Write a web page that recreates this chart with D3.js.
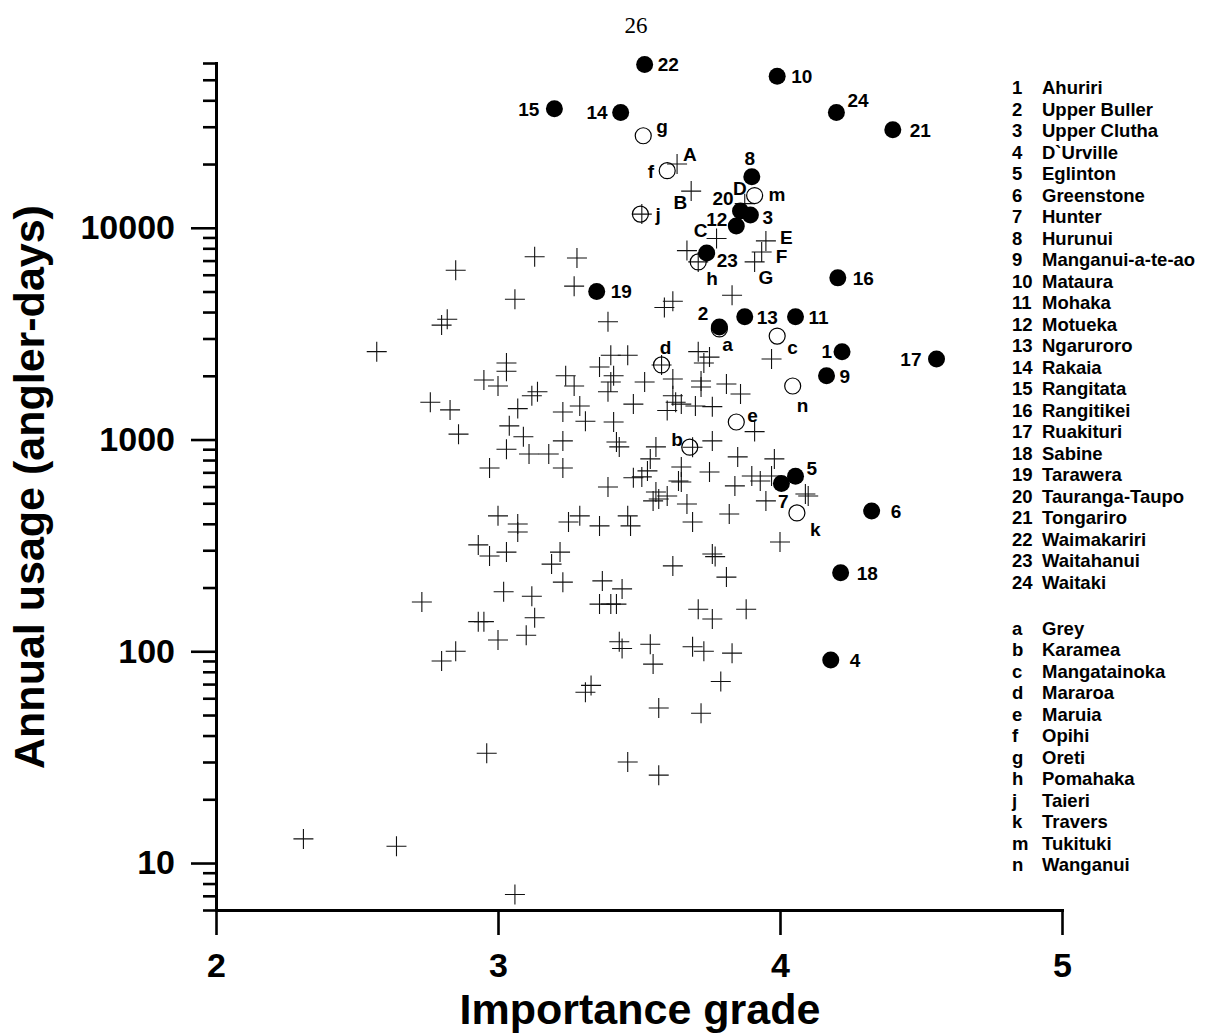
<!DOCTYPE html>
<html>
<head>
<meta charset="utf-8">
<script src="https://cdn.jsdelivr.net/npm/d3@7"></script>
<style>
  body { margin: 0; background: #fff; }
  svg text { font-family: "Liberation Sans", Arial, Helvetica, sans-serif; }
</style>
</head>
<body>
<div id="chart"></div>
<script>
var width = 1206, height = 1034;

// numbered rivers (filled circles)
var riverIds = ["1","2","3","4","5","6","7","8","9","10","11","12","13","14","15","16","17","18","19","20","21","22","23","24"];
var riverNames = ["Ahuriri","Upper Buller","Upper Clutha","D`Urville","Eglinton","Greenstone","Hunter","Hurunui",
  "Manganui-a-te-ao","Mataura","Mohaka","Motueka","Ngaruroro","Rakaia","Rangitata","Rangitikei","Ruakituri",
  "Sabine","Tarawera","Tauranga-Taupo","Tongariro","Waimakariri","Waitahanui","Waitaki"];
var riverGrade = [4.22, 3.785, 3.895, 4.18, 4.055, 4.325, 4.005, 3.90, 4.165, 3.99, 4.055, 3.845,
  3.875, 3.435, 3.20, 4.205, 4.555, 4.215, 3.35, 3.86, 4.40, 3.52, 3.74, 4.20];
var riverUsage = [2600, 3400, 11500, 91, 670, 460, 620, 17400, 2000, 52000, 3800, 10200,
  3800, 35000, 36500, 5800, 2400, 235, 5000, 12000, 29000, 59000, 7600, 35000];

// lettered rivers (open circles)
var otherIds = ["a","b","c","d","e","f","g","h","j","k","m","n"];
var otherNames = ["Grey","Karamea","Mangatainoka","Mararoa","Maruia","Opihi","Oreti","Pomahaka","Taieri","Travers","Tukituki","Wanganui"];
var otherGrade = [3.785, 3.68, 3.99, 3.58, 3.845, 3.60, 3.515, 3.71, 3.505, 4.06, 3.91, 4.045];
var otherUsage = [3330, 920, 3080, 2250, 1210, 18600, 27200, 6900, 11600, 450, 14200, 1790];

// crosses with capital letter tags
var tagIds = ["A","B","C","D","E","F","G"];
var tagGrade = [3.635, 3.685, 3.775, 3.875, 3.95, 3.935, 3.91];
var tagUsage = [20000, 14900, 8900, 13000, 8670, 7690, 6900];

// all other rivers (crosses)
var crossGrade = [3.67, 3.51, 3.71, 3.58, 3.69, 3.13, 3.28, 3.27, 3.06, 3.39, 3.59, 3.62, 3.83, 3.97,
  3.40, 3.46, 3.71, 3.75, 3.73, 3.03, 3.03, 3.36, 3.41, 3.40, 3.52, 3.62, 3.72, 3.72, 3.81, 3.86,
  3.24, 3.27, 3.14, 3.12, 3.39, 3.48, 3.62, 3.63, 3.65, 3.70, 3.76, 3.60, 3.29, 3.23, 3.31, 3.07,
  3.04, 3.09, 3.03, 3.11, 3.18, 3.23, 3.23, 3.41, 3.42, 3.43, 3.56, 3.76, 3.91, 3.85, 3.75, 3.65,
  3.54, 3.53, 3.51, 3.48, 3.39, 3.56, 3.60, 3.64, 3.65, 3.67, 3.57, 3.84, 3.90, 3.93, 3.97, 3.98,
  3.95, 4.09, 4.10, 3.82, 3.69, 3.46, 3.29, 3.25, 3.36, 3.07, 3.00, 3.47, 4.00, 3.76, 3.77, 3.62,
  3.81, 3.37, 3.44, 3.36, 3.40, 3.42, 3.71, 3.76, 3.88, 3.43, 3.44, 3.54, 3.55, 3.69, 3.73, 3.83,
  3.79, 3.33, 3.31, 3.57, 3.72, 3.55, 2.85, 2.80, 2.82, 2.57, 2.95, 3.00, 2.76, 2.83, 2.86, 2.97,
  3.07, 2.93, 2.97, 3.03, 3.22, 3.19, 3.23, 3.02, 3.12, 3.13, 3.10, 2.73, 2.93, 2.95, 3.00, 2.85,
  2.80, 2.96, 2.31, 2.64, 3.06, 3.46, 3.57];
var crossUsage = [7800, 11600, 6900, 2250, 920, 7300, 7200, 5300, 4600, 3600, 4200, 4500, 4800, 2400,
  2500, 2500, 2600, 2450, 2300, 2300, 2100, 2200, 2000, 1870, 1870, 1930, 1890, 1770, 1830, 1640,
  2000, 1790, 1680, 1610, 1680, 1470, 1610, 1500, 1470, 1440, 1430, 1370, 1440, 1350, 1220, 1400,
  1160, 1030, 900, 855, 855, 985, 734, 1210, 974, 923, 923, 985, 1090, 828, 703, 742,
  810, 711, 666, 660, 597, 565, 541, 637, 630, 496, 524, 604, 673, 637, 673, 810,
  513, 553, 541, 445, 408, 436, 436, 408, 391, 399, 436, 391, 328, 288, 280, 253,
  224, 215, 197, 167, 167, 167, 158, 142, 158, 111, 103, 108, 87, 105, 100, 98,
  72, 69, 64, 54, 51, 513, 6300, 3470, 3700, 2600, 1910, 1790, 1500, 1380, 1060, 734,
  366, 318, 282, 294, 294, 258, 212, 191, 182, 144, 119, 171, 138, 138, 113, 100,
  90, 33, 13, 12, 7.1, 30, 26];

var xTicks = [2, 3, 4, 5];
var yMajorTicks = [10, 100, 1000, 10000];

// where each marker label sits: anchor, dx, dy (from marker centre)
var labelPlace = {
  "1": ["end", -10, 0], "2": ["end", -11, -14], "3": ["start", 12, 2], "4": ["start", 19, 0],
  "5": ["start", 11, -8], "6": ["start", 19, 0], "7": ["middle", 2, 18], "8": ["middle", -2, -19],
  "9": ["start", 13, 0], "10": ["start", 14, 0], "11": ["start", 13, 0], "12": ["end", -9, -7],
  "13": ["start", 12, 0], "14": ["end", -13, 0], "15": ["end", -15, 0], "16": ["start", 15, 0],
  "17": ["end", -15, 0], "18": ["start", 16, 0], "19": ["start", 14, 0], "20": ["end", -7, -13],
  "21": ["start", 17, 0], "22": ["start", 13, 0], "23": ["start", 10, 7], "24": ["start", 11, -12],
  "a": ["start", 3, 15], "b": ["end", -7, -8], "c": ["start", 10, 11], "d": ["middle", 4, -18],
  "e": ["start", 11, -7], "f": ["end", -13, 0], "g": ["start", 13, -10], "h": ["start", 8, 16],
  "j": ["start", 15, 0], "k": ["start", 13, 16], "m": ["start", 14, -1], "n": ["start", 4, 19],
  "A": ["start", 6, -10], "B": ["end", -4, 11], "C": ["end", -9, -8], "D": ["middle", -5, -15],
  "E": ["start", 14, -4], "F": ["start", 14, 4], "G": ["start", 4, 15]
};

var svg = d3.select("#chart").append("svg")
  .attr("width", width)
  .attr("height", height);

var x = d3.scaleLinear().domain([2, 5]).range([216, 1062]);
var y = d3.scaleLog().domain([6, 60000]).range([910, 63]);

// page number
svg.append("text")
  .attr("x", 636).attr("y", 33)
  .attr("text-anchor", "middle")
  .style("font-family", "'Liberation Serif', 'Times New Roman', serif")
  .style("font-size", "23px")
  .text("26");

// y axis: minor ticks, then major with labels
var minorTicks = y.ticks().filter(function(d) { return yMajorTicks.indexOf(d) < 0; });

var yMinor = svg.append("g")
  .attr("transform", "translate(216,0)")
  .call(d3.axisLeft(y).tickValues(minorTicks).tickSize(13).tickSizeOuter(0).tickFormat(""));
yMinor.select(".domain").remove();

var yAxis = svg.append("g")
  .attr("transform", "translate(216,0)")
  .call(d3.axisLeft(y).tickValues(yMajorTicks).tickSize(25).tickSizeOuter(0)
    .tickPadding(16).tickFormat(d3.format("d")));

var xAxis = svg.append("g")
  .attr("transform", "translate(0,910)")
  .call(d3.axisBottom(x).tickValues(xTicks).tickSize(25).tickSizeOuter(0)
    .tickPadding(18).tickFormat(d3.format("d")));

svg.selectAll(".tick line").attr("stroke", "#000").attr("stroke-width", 2.6);
svg.selectAll(".domain").attr("stroke", "#000").attr("stroke-width", 3).attr("stroke-linecap", "square");
svg.selectAll(".tick text")
  .attr("fill", "#000")
  .style("font-size", "34px")
  .style("font-weight", "bold");

// axis titles
svg.append("text")
  .attr("transform", "translate(44,487) rotate(-90)")
  .attr("text-anchor", "middle")
  .style("font-size", "43px")
  .style("font-weight", "bold")
  .text("Annual usage (angler-days)");

svg.append("text")
  .attr("x", 640).attr("y", 1024)
  .attr("text-anchor", "middle")
  .style("font-size", "43px")
  .style("font-weight", "bold")
  .text("Importance grade");

// marker data
var crosses = crossGrade.map(function(g, i) { return {g: g, u: crossUsage[i]}; });
var tagged = tagIds.map(function(id, i) { return {id: id, g: tagGrade[i], u: tagUsage[i]}; });
var others = otherIds.map(function(id, i) { return {id: id, g: otherGrade[i], u: otherUsage[i]}; });
var rivers = riverIds.map(function(id, i) { return {id: id, g: riverGrade[i], u: riverUsage[i]}; });

var crossPath = "M-10,0H10M0,-10V10";

svg.append("g").selectAll("path")
  .data(crosses.concat(tagged))
  .enter().append("path")
  .attr("d", crossPath)
  .attr("transform", function(d) { return "translate(" + x(d.g) + "," + y(d.u) + ")"; })
  .attr("stroke", "#111")
  .attr("stroke-width", 1.1)
  .attr("fill", "none");

svg.append("g").selectAll("circle")
  .data(others)
  .enter().append("circle")
  .attr("cx", function(d) { return x(d.g); })
  .attr("cy", function(d) { return y(d.u); })
  .attr("r", 8)
  .attr("fill", "none")
  .attr("stroke", "#000")
  .attr("stroke-width", 1.2);

svg.append("g").selectAll("circle")
  .data(rivers)
  .enter().append("circle")
  .attr("cx", function(d) { return x(d.g); })
  .attr("cy", function(d) { return y(d.u); })
  .attr("r", 8.5)
  .attr("fill", "#000");

svg.append("g").selectAll("text")
  .data(rivers.concat(others).concat(tagged))
  .enter().append("text")
  .attr("x", function(d) { return x(d.g) + labelPlace[d.id][1]; })
  .attr("y", function(d) { return y(d.u) + labelPlace[d.id][2]; })
  .attr("dy", "0.36em")
  .attr("text-anchor", function(d) { return labelPlace[d.id][0]; })
  .style("font-size", "19px")
  .style("font-weight", "bold")
  .text(function(d) { return d.id; });

// key lists on the right
var key1 = svg.append("g").style("font-size", "18.5px").style("font-weight", "bold");
riverIds.forEach(function(id, i) {
  key1.append("text").attr("x", 1012).attr("y", 94 + i * 21.5).text(id);
  key1.append("text").attr("x", 1042).attr("y", 94 + i * 21.5).text(riverNames[i]);
});

var key2 = svg.append("g").style("font-size", "18.5px").style("font-weight", "bold");
otherIds.forEach(function(id, i) {
  key2.append("text").attr("x", 1012).attr("y", 635 + i * 21.45).text(id);
  key2.append("text").attr("x", 1042).attr("y", 635 + i * 21.45).text(otherNames[i]);
});
</script>
</body>
</html>
